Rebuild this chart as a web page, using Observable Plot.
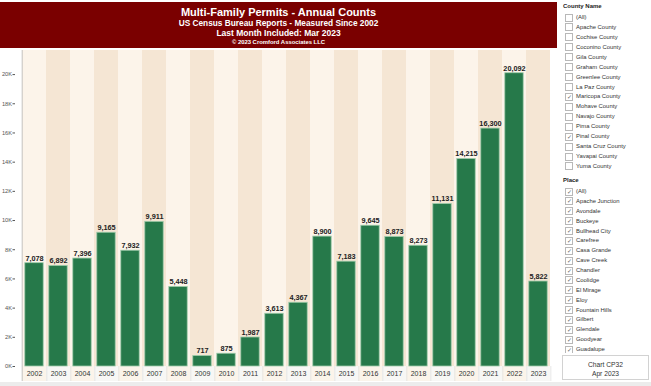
<!DOCTYPE html>
<html><head><meta charset="utf-8">
<script src="https://cdn.jsdelivr.net/npm/d3@7"></script>
<script src="https://cdn.jsdelivr.net/npm/@observablehq/plot@0.6"></script>
<style>
body{margin:0;background:#fff;font-family:"Liberation Sans",Arial,sans-serif;}
#wrap{position:relative;width:651px;height:386px;overflow:hidden;background:#fff;}
#title{position:absolute;left:0;top:2px;width:557px;height:46px;background:#7a0000;color:#fff;text-align:center;font-weight:bold;}
#title div{position:absolute;left:0;right:0;white-space:nowrap;}
#chart{position:absolute;left:0;top:49px;}
#panel{position:absolute;left:557px;top:0;width:94px;height:386px;background:#fff;}
.hdr{position:absolute;left:6px;height:10px;line-height:10px;font-weight:bold;font-size:6px;color:#222;white-space:nowrap;}
.item{position:absolute;left:8px;height:10px;line-height:10px;font-size:5.9px;color:#333;white-space:nowrap;}
.box{position:absolute;left:0;top:1.5px;width:6px;height:6px;border:0.8px solid #b8b8b8;background:#fff;font-size:6px;line-height:6px;text-align:center;color:#666;}
.lbl{position:absolute;left:11px;top:0;}
#placeClip{position:absolute;left:0;top:186px;width:94px;height:166.5px;overflow:hidden;}
#cbox{position:absolute;left:5px;top:355px;width:85px;height:23px;border:1px solid #d2d2d2;background:#fff;text-align:center;font-size:6.7px;color:#333;}
#cbox div{position:absolute;left:0;right:0;height:9px;line-height:9px;}
#bottom{position:absolute;left:0;top:382px;width:651px;height:4px;background:#ececec;}
</style></head>
<body>
<div id="wrap">
  <div id="title">
    <div style="top:4px;height:12px;line-height:12px;font-size:11px;">Multi-Family Permits - Annual Counts</div>
    <div style="top:15.5px;height:10px;line-height:10px;font-size:8.3px;">US Census Bureau Reports - Measured Since 2002</div>
    <div style="top:25.5px;height:10px;line-height:10px;font-size:8.5px;">Last Month Included: Mar 2023</div>
    <div style="top:35.5px;height:8px;line-height:8px;font-size:5.9px;">© 2023 Cromford Associates LLC</div>
  </div>
  <div id="chart"></div>
  <div id="panel"></div>
  <div id="bottom"></div>
</div>
<script>
const years = ["2002","2003","2004","2005","2006","2007","2008","2009","2010","2011","2012","2013","2014","2015","2016","2017","2018","2019","2020","2021","2022","2023"];
const permits = [7078,6892,7396,9165,7932,9911,5448,717,875,1987,3613,4367,8900,7183,9645,8873,8273,11131,14215,16300,20092,5822];
const yTicks = [0,2000,4000,6000,8000,10000,12000,14000,16000,18000,20000];
const countyNames = ["(All)","Apache County","Cochise County","Coconino County","Gila County","Graham County","Greenlee County","La Paz County","Maricopa County","Mohave County","Navajo County","Pima County","Pinal County","Santa Cruz County","Yavapai County","Yuma County"];
const countyChecked = ["Maricopa County","Pinal County"];
const placeNames = ["(All)","Apache Junction","Avondale","Buckeye","Bullhead City","Carefree","Casa Grande","Cave Creek","Chandler","Coolidge","El Mirage","Eloy","Fountain Hills","Gilbert","Glendale","Goodyear","Guadalupe"];

const data = years.map((y, i) => ({year: y, value: permits[i]}));
const yMax = 21650, yLow = -1030;
const W = 557, ML = 15;
const half = (W - ML) / years.length / 2;
const stripeLight = "#fcf4ea", stripeDark = "#f5e6d4";

const chart = Plot.plot({
  width: W, height: 337,
  marginLeft: ML, marginRight: 0, marginTop: 1, marginBottom: 20,
  style: {fontFamily: "Liberation Sans, Arial, sans-serif", background: "transparent"},
  x: {type: "band", domain: years, padding: 0, label: null},
  y: {domain: [0, yMax], label: null},
  color: {type: "identity"},
  marks: [
    Plot.barY(years, {x: d => d, y1: 0, y2: yMax, fill: (d, i) => i % 2 ? stripeDark : stripeLight}),
    Plot.barY(years, {x: d => d, y1: 0, y2: yLow, fill: (d, i) => i % 2 ? "#f7f7f5" : "#fbf4ea"}),
    Plot.ruleX(years, {x: d => d, y1: 0, y2: yLow, dx: half, stroke: "#e2e2e2", strokeWidth: 0.8}),
    Plot.barY(data, {x: "year", y: "value", fill: "#26794a", stroke: "#9fcbab", strokeWidth: 0.8, insetLeft: 2.8, insetRight: 2.8}),
    Plot.text(data, {x: "year", y: "value", text: d => d3.format(",")(d.value), dy: -5, fontSize: 7.3, fontWeight: "bold", fill: "#222"}),
    Plot.axisX({label: null, tickSize: 0, tickPadding: 5, fontSize: 7, color: "#333"}),
    Plot.axisY({label: null, ticks: yTicks, tickFormat: d => d / 1000 + "K", tickSize: 2.5, tickPadding: 1, fontSize: 5.7, color: "#555"}),
    Plot.ruleX([years[0]], {x: d => d, y1: yLow, y2: yMax, dx: -half, stroke: "#b5b5b5", strokeWidth: 0.8})
  ]
});
document.getElementById("chart").appendChild(chart);

const panel = document.getElementById("panel");
function addHdr(parent, text, cy) {
  const h = document.createElement("div");
  h.className = "hdr"; h.textContent = text; h.style.top = (cy - 5) + "px";
  parent.appendChild(h);
}
function addItem(parent, text, cy, checked) {
  const it = document.createElement("div");
  it.className = "item"; it.style.top = (cy - 5) + "px";
  const b = document.createElement("span"); b.className = "box"; b.textContent = checked ? "✓" : "";
  const l = document.createElement("span"); l.className = "lbl"; l.textContent = text;
  it.appendChild(b); it.appendChild(l); parent.appendChild(it);
}
addHdr(panel, "County Name", 6);
countyNames.forEach((n, i) => addItem(panel, n, 17 + 9.93 * i, countyChecked.includes(n)));
addHdr(panel, "Place", 180);
const clip = document.createElement("div"); clip.id = "placeClip"; panel.appendChild(clip);
placeNames.forEach((n, i) => addItem(clip, n, 191 - 186 + 9.875 * i, true));
const cbox = document.createElement("div"); cbox.id = "cbox";
cbox.innerHTML = '<div style="top:4px">Chart CP32</div><div style="top:12.5px">Apr 2023</div>';
panel.appendChild(cbox);
</script>
</body></html>
